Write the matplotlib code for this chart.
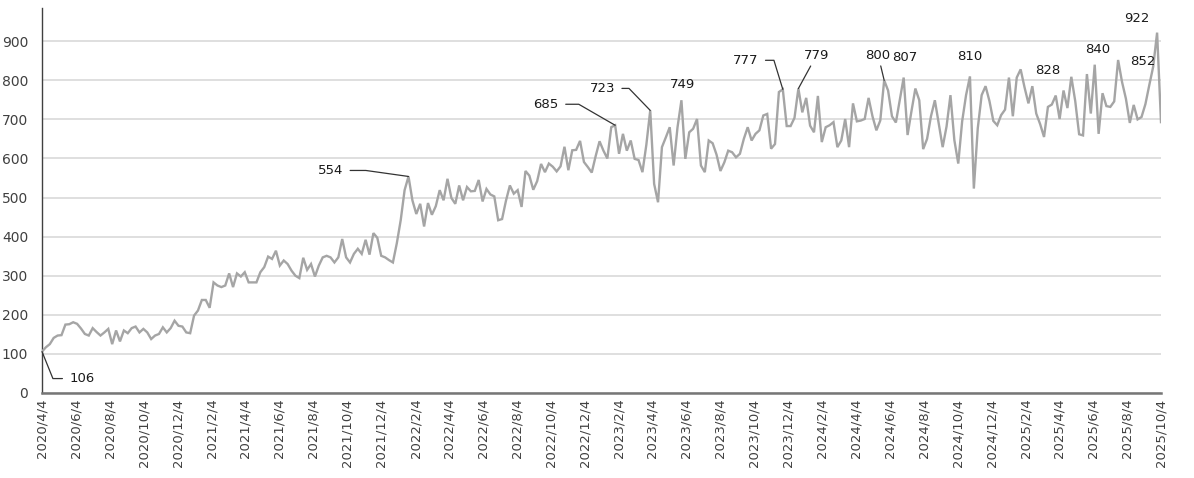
import matplotlib
matplotlib.use("Agg")
import matplotlib.pyplot as plt
import matplotlib.dates as mdates
import pandas as pd

# ---- data ----
start_date = "2020-04-04"
end_date = "2025-10-04"
values = [
    106, 117, 125, 141, 147, 148, 175, 176, 181, 177,
    165, 151, 147, 166, 156, 147, 155, 164, 125, 160,
    132, 160, 153, 166, 170, 155, 164, 155, 138, 147,
    151, 168, 155, 166, 185, 172, 170, 155, 153, 198,
    211, 238, 238, 218, 283, 275, 271, 275, 306, 271,
    306, 298, 309, 283, 283, 283, 309, 322, 349, 343,
    364, 326, 339, 330, 313, 300, 294, 346, 315, 330,
    298, 326, 347, 351, 347, 334, 347, 394, 347, 334,
    356, 369, 356, 392, 354, 409, 397, 351, 347, 340,
    334, 383, 442, 519, 554, 493, 458, 484, 426, 486,
    456, 478, 519, 493, 548, 499, 484, 531, 493, 527,
    516, 517, 545, 490, 522, 508, 503, 442, 445, 492,
    531, 510, 519, 476, 568, 556, 520, 542, 586, 565,
    587, 579, 567, 580, 630, 570, 621, 622, 645, 591,
    578, 564, 606, 644, 620, 600, 680, 685, 612, 663,
    620, 646, 599, 596, 565, 635, 723, 535, 488, 629,
    654, 680, 582, 680, 749, 599, 667, 676, 701, 582,
    565, 646, 639, 610, 568, 590, 620, 616, 603, 612,
    650, 680, 646, 663, 672, 710, 714, 625, 637, 770,
    777, 683, 683, 704, 779, 718, 755, 684, 667, 760,
    642, 680, 685, 693, 629, 646, 701, 629, 741, 695,
    697, 701, 755, 708, 672, 697, 800, 774, 708, 692,
    749, 807, 660, 721, 779, 749, 624, 650, 708, 749,
    689, 629, 682, 762, 647, 587, 695, 762, 810, 523,
    677, 762, 785, 747, 696, 685, 711, 725, 807, 708,
    807, 828, 782, 741, 785, 715, 688, 655, 732, 738,
    761, 701, 774, 729, 809, 747, 662, 659, 816, 715,
    840, 663, 767, 734, 732, 746, 852, 796, 753, 691,
    737, 700, 706, 739, 788, 835, 922, 693,
]
# labelled points: week index -> (text offset x px, offset y px, leader style)
label_idx = [0, 94, 147, 156, 164, 190, 194, 216, 221, 238, 251, 270, 276, 286]
label_dx = [40, -78, -69, -48, 1, -37, 18, -6, 1, 0, 27, 3, 25, -20]
label_dy = [-27, 6, 21, 22, 16, 29, 33, 25, 20, 20, -1, 15, -2, 14]
# leader: None = no line; "straight"; or angle of diagonal at the point
label_leader = [-68, 172, -30, -46, None, -73, "straight", "straight",
                None, None, None, None, None, None]
yticks = [0, 100, 200, 300, 400, 500, 600, 700, 800, 900]

dates = pd.date_range(start_date, end_date, freq="7D")
tick_dates = [pd.Timestamp(year=2020 + (3 + 2 * k) // 12, month=(3 + 2 * k) % 12 + 1, day=4)
              for k in range(34)]
tick_labels = [f"{d.year}/{d.month}/{d.day}" for d in tick_dates]

plt.rcParams['font.family'] = ['DejaVu Sans']
fig = plt.figure(figsize=(11.94, 4.78), dpi=100)
ax = fig.add_axes([42 / 1194, 85 / 478, 1119 / 1194, 385 / 478])

ax.plot(dates, values, color="#a5a5a5", lw=1.7, solid_joinstyle="miter", zorder=3)

ax.set_xlim(dates[0], dates[-1])
ax.set_ylim(0, 985)
ax.set_yticks(yticks)
ax.set_yticklabels([str(v) for v in yticks], fontsize=10, color="#404040")
ax.set_xticks(tick_dates)
ax.set_xticklabels(tick_labels, rotation=90, fontsize=9.5, color="#404040")
ax.tick_params(axis="both", length=0)
ax.tick_params(axis="y", pad=10)
ax.tick_params(axis="x", pad=4)
ax.grid(axis="y", color="#d9d9d9", lw=1.2, zorder=0)
ax.set_axisbelow(True)
for s in ["top", "right"]:
    ax.spines[s].set_visible(False)
ax.spines["left"].set_color("#404040")
ax.spines["left"].set_linewidth(1.0)
ax.spines["bottom"].set_color("#767676")
ax.spines["bottom"].set_linewidth(1.8)

for i, dx, dy, ld in zip(label_idx, label_dx, label_dy, label_leader):
    kw = dict(xy=(dates[i], values[i]), xytext=(dx, dy), textcoords="offset pixels",
              ha="center", va="center", fontsize=9.5, color="#1a1a1a", zorder=5)
    if ld is None:
        ax.annotate(str(values[i]), **kw)
    elif ld == "straight":
        ax.annotate(str(values[i]), arrowprops=dict(arrowstyle="-", color="#333333", lw=0.9,
                                                    shrinkA=1, shrinkB=0), **kw)
    else:
        ax.annotate(str(values[i]), arrowprops=dict(
            arrowstyle="-", color="#333333", lw=0.9, shrinkA=3, shrinkB=0,
            connectionstyle=f"angle,angleA=0,angleB={ld},rad=0"), **kw)

fig.savefig("out.png", dpi=100)
